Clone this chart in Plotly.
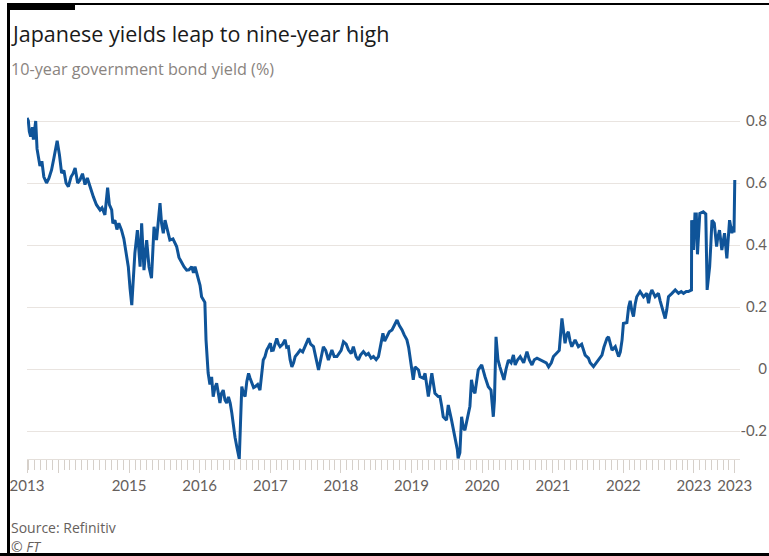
import plotly.graph_objects as go

# ---- data ----
dates = [
    "2013-07-22", "2013-07-29", "2013-08-03", "2013-08-10", "2013-08-19", "2013-08-24", "2013-09-05", "2013-09-12",
    "2013-09-27", "2013-10-07", "2013-10-17", "2013-10-31", "2013-11-12", "2013-11-26", "2013-12-08", "2013-12-25",
    "2014-01-06", "2014-01-17", "2014-01-29", "2014-02-09", "2014-02-21", "2014-03-07", "2014-03-17", "2014-03-28",
    "2014-04-10", "2014-04-22", "2014-05-05", "2014-05-18", "2014-05-30", "2014-06-13", "2014-06-30", "2014-07-16",
    "2014-08-04", "2014-08-14", "2014-08-29", "2014-09-12", "2014-09-21", "2014-10-03", "2014-10-09", "2014-10-20",
    "2014-10-30", "2014-11-09", "2014-11-23", "2014-12-05", "2014-12-19", "2014-12-28",
    "2015-01-06", "2015-01-15", "2015-01-21", "2015-01-31", "2015-02-13", "2015-02-27", "2015-03-07", "2015-03-19",
    "2015-04-02", "2015-04-14", "2015-04-27", "2015-05-10", "2015-05-23", "2015-06-02", "2015-06-10", "2015-06-18",
    "2015-06-27", "2015-07-06", "2015-07-18", "2015-07-31", "2015-08-16", "2015-09-04", "2015-09-16", "2015-09-30",
    "2015-10-12", "2015-10-26", "2015-11-07", "2015-11-21", "2015-11-30", "2015-12-08", "2015-12-25",
    "2016-01-03", "2016-01-11", "2016-01-28", "2016-02-03", "2016-02-09", "2016-02-14", "2016-02-23", "2016-03-03",
    "2016-03-11", "2016-03-20", "2016-03-29", "2016-04-07", "2016-04-15", "2016-04-22", "2016-05-02", "2016-05-11",
    "2016-05-20", "2016-05-29", "2016-06-07", "2016-06-15", "2016-06-24", "2016-07-02", "2016-07-11", "2016-07-17",
    "2016-07-24", "2016-07-30", "2016-08-06", "2016-08-15", "2016-08-23", "2016-09-01", "2016-09-10", "2016-09-18",
    "2016-09-27", "2016-10-06", "2016-10-14", "2016-10-27", "2016-11-08", "2016-11-16", "2016-11-25", "2016-12-04",
    "2016-12-13", "2016-12-21",
    "2017-01-01", "2017-01-07", "2017-01-16", "2017-01-25", "2017-02-03", "2017-02-12", "2017-02-20", "2017-03-05",
    "2017-03-18", "2017-03-26", "2017-04-04", "2017-04-13", "2017-04-22", "2017-05-01", "2017-05-09", "2017-05-22",
    "2017-06-04", "2017-06-17", "2017-06-30", "2017-07-08", "2017-07-17", "2017-07-28", "2017-08-12", "2017-08-23",
    "2017-09-07", "2017-09-18", "2017-10-02", "2017-10-14", "2017-10-28", "2017-11-15", "2017-11-27", "2017-12-11",
    "2017-12-23",
    "2018-01-02", "2018-01-14", "2018-01-28", "2018-02-09", "2018-02-23", "2018-03-06", "2018-03-20", "2018-04-01",
    "2018-04-12", "2018-04-27", "2018-05-11", "2018-05-23", "2018-06-06", "2018-06-18", "2018-07-02", "2018-07-14",
    "2018-07-23", "2018-08-06", "2018-08-15", "2018-08-27", "2018-09-08", "2018-09-22", "2018-10-04", "2018-10-18",
    "2018-10-30", "2018-11-13", "2018-11-24", "2018-12-08", "2018-12-17", "2018-12-25",
    "2019-01-01", "2019-01-10", "2019-01-19", "2019-02-06", "2019-02-14", "2019-03-03", "2019-03-12", "2019-03-29",
    "2019-04-16", "2019-04-24", "2019-05-02", "2019-05-19", "2019-05-28", "2019-06-06", "2019-06-14", "2019-07-01",
    "2019-07-10", "2019-07-27", "2019-08-08", "2019-08-19", "2019-08-26", "2019-08-30", "2019-09-08", "2019-09-17",
    "2019-09-26", "2019-10-04", "2019-10-21", "2019-10-30", "2019-11-07", "2019-11-17", "2019-11-25", "2019-12-12",
    "2019-12-30",
    "2020-01-08", "2020-01-16", "2020-02-02", "2020-02-16", "2020-02-28", "2020-03-05", "2020-03-13", "2020-03-23",
    "2020-04-02", "2020-04-13", "2020-04-23", "2020-05-04", "2020-05-16", "2020-05-30", "2020-06-11", "2020-06-20",
    "2020-07-03", "2020-07-16", "2020-08-03", "2020-08-20", "2020-09-01", "2020-09-15", "2020-09-27", "2020-10-11",
    "2020-10-28", "2020-11-14", "2020-11-28", "2020-12-10", "2020-12-24",
    "2021-01-04", "2021-01-22", "2021-02-03", "2021-02-17", "2021-02-26", "2021-03-05", "2021-03-13", "2021-03-22",
    "2021-03-31", "2021-04-09", "2021-04-26", "2021-05-13", "2021-05-30", "2021-06-17", "2021-07-04", "2021-07-13",
    "2021-07-30", "2021-08-14", "2021-08-26", "2021-09-12", "2021-09-22", "2021-09-29", "2021-10-08", "2021-10-16",
    "2021-10-25", "2021-11-03", "2021-11-20", "2021-12-07", "2021-12-16", "2021-12-25",
    "2022-01-01", "2022-01-19", "2022-01-28", "2022-02-05", "2022-02-13", "2022-02-22", "2022-03-03", "2022-03-11",
    "2022-03-28", "2022-04-15", "2022-05-02", "2022-05-11", "2022-05-19", "2022-05-28", "2022-06-14", "2022-07-01",
    "2022-07-10", "2022-07-18", "2022-07-27", "2022-08-05", "2022-08-13", "2022-08-22", "2022-09-09", "2022-09-26",
    "2022-10-13", "2022-10-27", "2022-11-08", "2022-11-22", "2022-12-03", "2022-12-19", "2022-12-20", "2022-12-23",
    "2022-12-28", "2022-12-30",
    "2023-01-06", "2023-01-13", "2023-01-19", "2023-01-25", "2023-01-31", "2023-02-18", "2023-03-03", "2023-03-10",
    "2023-03-14", "2023-03-23", "2023-03-29", "2023-04-04", "2023-04-16", "2023-04-28", "2023-05-03", "2023-05-13",
    "2023-05-25", "2023-06-08", "2023-06-20", "2023-06-26", "2023-07-04", "2023-07-16", "2023-07-22", "2023-07-27",
    "2023-07-28", "2023-07-31",
]

yields = [
    0.81, 0.80, 0.766, 0.75, 0.78, 0.74, 0.80, 0.71,
    0.655, 0.67, 0.62, 0.60, 0.615, 0.642, 0.68, 0.736,
    0.69, 0.632, 0.64, 0.60, 0.588, 0.62, 0.63, 0.648,
    0.60, 0.61, 0.63, 0.595, 0.616, 0.585, 0.556, 0.53,
    0.513, 0.52, 0.497, 0.585, 0.53, 0.513, 0.47, 0.48,
    0.45, 0.47, 0.448, 0.42, 0.362, 0.33,
    0.26, 0.206, 0.27, 0.374, 0.448, 0.33, 0.47, 0.319,
    0.416, 0.33, 0.293, 0.459, 0.416, 0.50, 0.535, 0.47,
    0.438, 0.48, 0.45, 0.416, 0.42, 0.395, 0.36, 0.342,
    0.33, 0.319, 0.32, 0.33, 0.31, 0.33, 0.287,
    0.27, 0.233, 0.215, 0.094, 0.03, -0.013, -0.05, -0.025,
    -0.089, -0.06, -0.046, -0.09, -0.11, -0.08, -0.068, -0.10,
    -0.11, -0.09, -0.11, -0.14, -0.186, -0.22, -0.25, -0.27,
    -0.29, -0.18, -0.057, -0.08, -0.089, -0.04, -0.014, -0.03,
    -0.046, -0.06, -0.057, -0.05, -0.068, -0.01, 0.029, 0.04,
    0.061, 0.07,
    0.083, 0.06, 0.061, 0.08, 0.099, 0.08, 0.072, 0.08,
    0.094, 0.07, 0.072, 0.03, 0.007, 0.02, 0.04, 0.05,
    0.061, 0.055, 0.072, 0.085, 0.099, 0.08, 0.072, 0.04,
    -0.003, 0.03, 0.072, 0.06, 0.029, 0.061, 0.04, 0.04,
    0.05,
    0.06, 0.088, 0.08, 0.061, 0.05, 0.072, 0.04, 0.029,
    0.045, 0.056, 0.045, 0.05, 0.035, 0.04, 0.03, 0.04,
    0.07, 0.115, 0.09, 0.104, 0.12, 0.126, 0.14, 0.158,
    0.14, 0.126, 0.11, 0.094, 0.07, 0.04,
    0.005, -0.035, 0.007, -0.003, -0.025, -0.03, -0.014, -0.089,
    -0.014, -0.046, -0.078, -0.089, -0.089, -0.12, -0.154, -0.165,
    -0.116, -0.165, -0.20, -0.229, -0.26, -0.288, -0.27, -0.154,
    -0.19, -0.197, -0.143, -0.12, -0.035, -0.07, -0.078, -0.003,
    0.013,
    -0.01, -0.025, -0.057, -0.068, -0.154, -0.10, 0.104, 0.03,
    0.007, -0.02, -0.035, 0.0, 0.029, 0.02, 0.045, 0.013,
    0.03, 0.04, 0.02, 0.056, 0.03, 0.013, 0.03, 0.035,
    0.03, 0.024, 0.02, 0.007, 0.02,
    0.04, 0.051, 0.06, 0.163, 0.12, 0.083, 0.11, 0.12,
    0.09, 0.072, 0.094, 0.072, 0.08, 0.045, 0.035, 0.02,
    0.008, 0.02, 0.03, 0.045, 0.07, 0.083, 0.099, 0.104,
    0.08, 0.061, 0.072, 0.04, 0.055, 0.094,
    0.147, 0.15, 0.20, 0.22, 0.19, 0.169, 0.21, 0.233,
    0.25, 0.233, 0.244, 0.212, 0.24, 0.255, 0.233, 0.244,
    0.22, 0.20, 0.18, 0.163, 0.19, 0.233, 0.244, 0.255,
    0.244, 0.25, 0.244, 0.25, 0.25, 0.255, 0.48, 0.46,
    0.47, 0.384,
    0.50, 0.50, 0.37, 0.45, 0.502, 0.507, 0.50, 0.255,
    0.28, 0.33, 0.40, 0.48, 0.47, 0.395, 0.42, 0.448,
    0.384, 0.438, 0.357, 0.40, 0.48, 0.438, 0.46, 0.44,
    0.55, 0.61,
]

x_tick_dates = ["2013-07-22", "2014-01-01", "2015-01-01", "2016-01-01", "2017-01-01", "2018-01-01",
                "2019-01-01", "2020-01-01", "2021-01-01", "2022-01-01", "2023-01-01", "2023-07-31"]
x_tick_labels = ["2013", "", "2015", "2016", "2017", "2018", "2019", "2020", "2021", "2022", "2023", "2023"]
y_tick_values = [-0.2, 0, 0.2, 0.4, 0.6, 0.8]
y_tick_labels = ["-0.2", "0", "0.2", "0.4", "0.6", "0.8"]

title = "Japanese yields leap to nine-year high"
subtitle = "10-year government bond yield (%)"
source = "Source: Refinitiv"
credit = "<i>© FT</i>"

# ---- layout geometry (pixels) ----
W, H = 769, 556
ML, MR, MT, MB = 27, 0, 109, 97
PW, PH = W - ML - MR, H - MT - MB
FONT = "Lato"
TFONT = "Open Sans"
GRAY = "#66605c"


def px(x):
    return (x - ML) / PW


def py(y):
    return (H - MB - y) / PH


fig = go.Figure()
fig.add_trace(go.Scatter(x=dates, y=yields, mode="lines",
                         line=dict(color="#0f5499", width=3), hoverinfo="skip"))

fig.update_layout(
    width=W, height=H,
    margin=dict(l=ML, r=MR, t=MT, b=MB, pad=0, autoexpand=False),
    paper_bgcolor="white", plot_bgcolor="white",
    showlegend=False,
    font=dict(family=FONT, color=GRAY),
    xaxis=dict(
        domain=[0, px(740)],
        type="date",
        range=["2013-07-22", "2023-08-27"],
        tickmode="array", tickvals=x_tick_dates, ticktext=x_tick_labels,
        ticks="outside", ticklen=13, tickwidth=1, tickcolor="#d6d0ca",
        showline=True, linecolor="#e4dfda", linewidth=1,
        showgrid=False, zeroline=False, automargin=False,
        tickfont=dict(family=FONT, size=15, color=GRAY),
        minor=dict(ticks="outside", ticklen=10, tickwidth=1, tickcolor="#d6d0ca",
                   dtick="M1", tick0="2013-01-01", showgrid=False),
    ),
    yaxis=dict(
        range=[-0.2903, 0.8387],
        tickmode="array", tickvals=y_tick_values, ticktext=y_tick_labels,
        anchor="free", position=1, side="left", automargin=False,
        ticklabelstandoff=2,
        showgrid=True, gridcolor="#e9e4e0", gridwidth=1,
        zeroline=False, showline=False, ticks="",
        tickfont=dict(family=FONT, size=15, color=GRAY),
    ),
)

# frame decoration
black = "#000000"
fig.add_shape(type="rect", xref="paper", yref="paper", x0=px(7), x1=px(10), y0=py(556), y1=py(3),
              fillcolor=black, line=dict(width=0), layer="above")
fig.add_shape(type="rect", xref="paper", yref="paper", x0=px(7), x1=px(769), y0=py(5), y1=py(3),
              fillcolor=black, line=dict(width=0), layer="above")
fig.add_shape(type="rect", xref="paper", yref="paper", x0=px(7), x1=px(75), y0=py(10), y1=py(3),
              fillcolor=black, line=dict(width=0), layer="above")
fig.add_shape(type="rect", xref="paper", yref="paper", x0=px(0), x1=px(769), y0=py(556), y1=py(553),
              fillcolor=black, line=dict(width=0), layer="above")

fig.add_annotation(text=title, xref="paper", yref="paper", x=px(9), y=py(33),
                   xanchor="left", yanchor="middle", showarrow=False,
                   font=dict(family=TFONT, size=21.5, color="#1a1a1a"))
fig.add_annotation(text=subtitle, xref="paper", yref="paper", x=px(9), y=py(69),
                   xanchor="left", yanchor="middle", showarrow=False,
                   font=dict(family=TFONT, size=16.2, color="#8a8480"))
fig.add_annotation(text=source, xref="paper", yref="paper", x=px(9), y=py(527),
                   xanchor="left", yanchor="middle", showarrow=False,
                   font=dict(family=TFONT, size=14, color=GRAY))
fig.add_annotation(text=credit, xref="paper", yref="paper", x=px(9), y=py(546),
                   xanchor="left", yanchor="middle", showarrow=False,
                   font=dict(family=TFONT, size=14, color=GRAY))

fig.write_html("out.html")
